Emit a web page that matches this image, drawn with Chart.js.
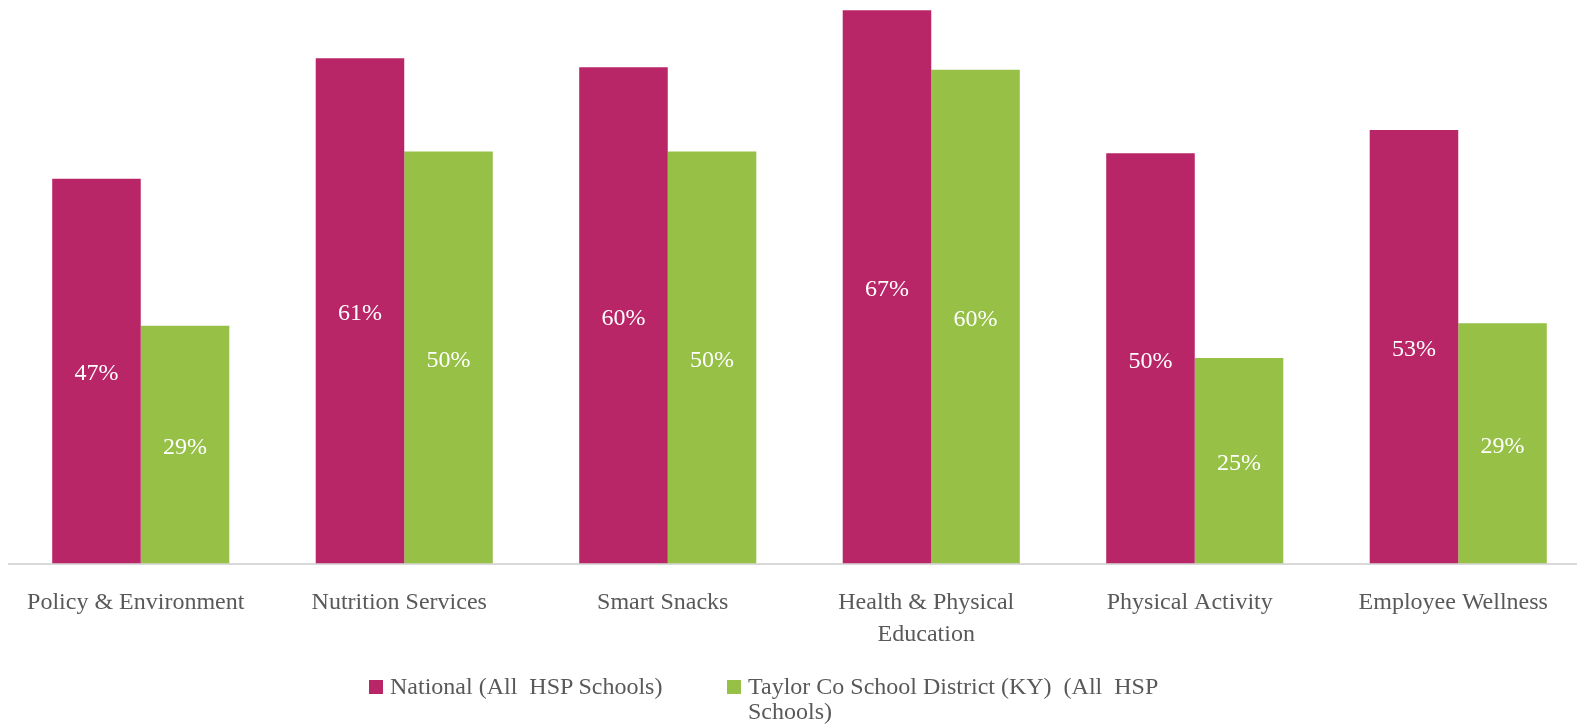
<!DOCTYPE html>
<html>
<head>
<meta charset="utf-8">
<script src="https://cdn.jsdelivr.net/npm/chart.js@4.4.1/dist/chart.umd.min.js"></script>
<style>
  html, body { margin: 0; padding: 0; background: #fff; overflow: hidden; }
  body { width: 1577px; height: 725px; position: relative; }
  #wrap { position: absolute; left: 0; top: 0; width: 1600px; height: 725px; }
  .legend { position: absolute; font-family: "Liberation Serif", "DejaVu Serif", serif;
            font-size: 24px; color: #595959; line-height: 25px; white-space: pre; }
  .legend .sw { position: absolute; left: 0; top: 6px; width: 14px; height: 14px; }
  .legend .tx { position: absolute; left: 21px; top: 0; }
</style>
</head>
<body>
<div id="wrap"><canvas id="chart"></canvas></div>
<div class="legend" style="left:369px; top:674px;">
  <div class="sw" style="background:#B92667"></div>
  <div class="tx">National (All  HSP Schools)</div>
</div>
<div class="legend" style="left:727px; top:674px;">
  <div class="sw" style="background:#96C046"></div>
  <div class="tx">Taylor Co School District (KY)  (All  HSP
Schools)</div>
</div>
<script>
// Kategori dan nilai (persen, dibaca dari tinggi batang)
const categories = [
    'Policy & Environment',
    'Nutrition Services',
    'Smart Snacks',
    ['Health & Physical', 'Education'],
    'Physical Activity',
    'Employee Wellness'
];
const nationalValues = [46.6, 61.2, 60.1, 67.0, 49.7, 52.5];
const taylorValues = [28.8, 49.9, 49.9, 59.8, 24.9, 29.1];
const seriesNames = ['National (All  HSP Schools)', 'Taylor Co School District (KY)  (All  HSP Schools)'];

const fontFamily = '"Liberation Serif", "DejaVu Serif", serif';

// Label persen di tengah batang
const barLabels = {
    id: 'barLabels',
    afterDatasetsDraw(chart) {
        const ctx = chart.ctx;
        ctx.save();
        ctx.fillStyle = '#ffffff';
        ctx.font = '24px ' + fontFamily;
        ctx.textAlign = 'center';
        ctx.textBaseline = 'middle';
        chart.data.datasets.forEach((ds, i) => {
            chart.getDatasetMeta(i).data.forEach((bar, j) => {
                const y = (bar.y + bar.base) / 2 + 3;
                ctx.fillText(Math.round(ds.data[j]) + '%', bar.x, y);
            });
        });
        ctx.restore();
    }
};

const ctx = document.getElementById('chart').getContext('2d');
new Chart(ctx, {
    type: 'bar',
    data: {
        labels: categories,
        datasets: [{
            label: seriesNames[0],
            data: nationalValues,
            backgroundColor: '#B92667'
        }, {
            label: seriesNames[1],
            data: taylorValues,
            backgroundColor: '#96C046'
        }]
    },
    options: {
        responsive: true,
        maintainAspectRatio: false,
        animation: false,
        layout: { padding: { left: 9, right: 10, top: 2, bottom: 51 } },
        datasets: { bar: { categoryPercentage: 0.672, barPercentage: 1.0 } },
        scales: {
            x: {
                grid: { display: false, drawTicks: false },
                border: { display: true, color: '#d9d9d9', width: 2 },
                ticks: {
                    color: '#595959',
                    font: { family: fontFamily, size: 24, lineHeight: 1.3 },
                    padding: 24,
                    labelOffset: -5,
                    maxRotation: 0,
                    autoSkip: false
                }
            },
            y: {
                display: false,
                min: 0,
                max: 68
            }
        },
        plugins: {
            legend: { display: false },
            tooltip: { enabled: false }
        }
    },
    plugins: [barLabels]
});
</script>
</body>
</html>
